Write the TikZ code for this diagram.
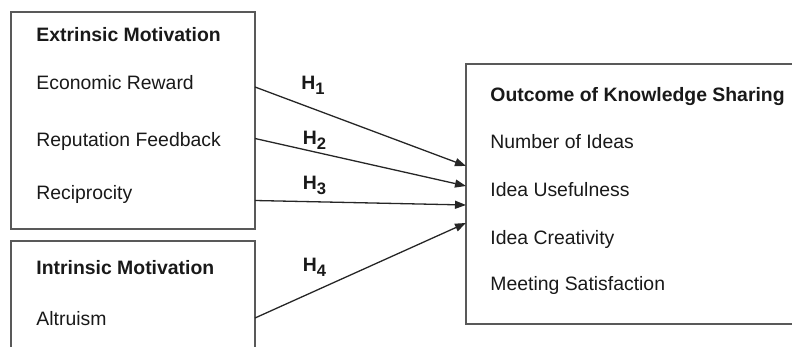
\documentclass[tikz,border=0pt]{standalone}
\usepackage{fontspec}
\setmainfont{Liberation Sans}
\usetikzlibrary{arrows.meta}
\newcommand{\hsub}[1]{\raisebox{-2.4pt}{\fontsize{8.3}{9}\selectfont #1}}
\begin{document}
\begin{tikzpicture}[x=0.5pt,y=-0.5pt,
      box/.style={draw=black!65,line width=0.8pt},
      item/.style={anchor=base west,inner sep=0pt,text=black!90,
        font=\fontsize{9.7}{12}\selectfont},
      head/.style={item,font=\fontsize{9.7}{12}\selectfont\bfseries},
      hyp/.style={draw=black!85,line width=0.65pt,
        -{Triangle[length=5.5pt,width=4pt]}},
      ]
        \useasboundingbox (0,0) rectangle (792,347);
        \clip (0,0) rectangle (792,347);

        % the three boxes
        \path [box] (11,12) coordinate (Ext) rectangle (255,229)
          coordinate (ExtSE);
        \path [box] (11,241) coordinate (Int) rectangle (255,360)
          coordinate (IntSE);
        \path [box] (466,64) coordinate (Out) rectangle (800,324)
          coordinate (OutSE);

        % left side
        \node [head] (exthead) at (36,41.7) {Extrinsic Motivation};
        \node [item] (econ) at (36,90) {Economic Reward};
        \node [item] (rep)  at (36,146.5) {Reputation Feedback};
        \node [item] (reci) at (36,200) {Reciprocity};
        \node [head] (inthead) at (36,275) {Intrinsic Motivation};
        \node [item] (altr) at (36,325) {Altruism};

        % right side
        \node [head] (outhead) at (490,101.7) {Outcome of Knowledge Sharing};
        \node [item] (ideas)  at (490,149) {Number of Ideas};
        \node [item] (useful) at (490,196.5) {Idea Usefulness};
        \node [item] (creat)  at (490,245) {Idea Creativity};
        \node [item] (meet)   at (490,290.5) {Meeting Satisfaction};

        % arrow ends
        \coordinate (s1) at (ExtSE |- 0,87);
        \coordinate (s2) at (ExtSE |- 0,138.5);
        \coordinate (s3) at (ExtSE |- 0,200.5);
        \coordinate (s4) at (IntSE |- 0,318);
        \coordinate (t1) at (Out |- 0,166);
        \coordinate (t2) at (Out |- 0,186);
        \coordinate (t3) at (Out |- 0,205);
        \coordinate (t4) at (Out |- 0,223);

        \draw [hyp] (s1) -- (t1);
        \draw [hyp] (s2) -- (t2);
        \draw [hyp] (s3) -- (t3);
        \draw [hyp] (s4) -- (t4);

        \node [head] (h1) at (301,90) {H\hsub{1}};
        \node [head] (h2) at (302.5,145) {H\hsub{2}};
        \node [head] (h3) at (302.5,190) {H\hsub{3}};
        \node [head] (h4) at (302.5,271.5) {H\hsub{4}};
      \end{tikzpicture}
\end{document}
